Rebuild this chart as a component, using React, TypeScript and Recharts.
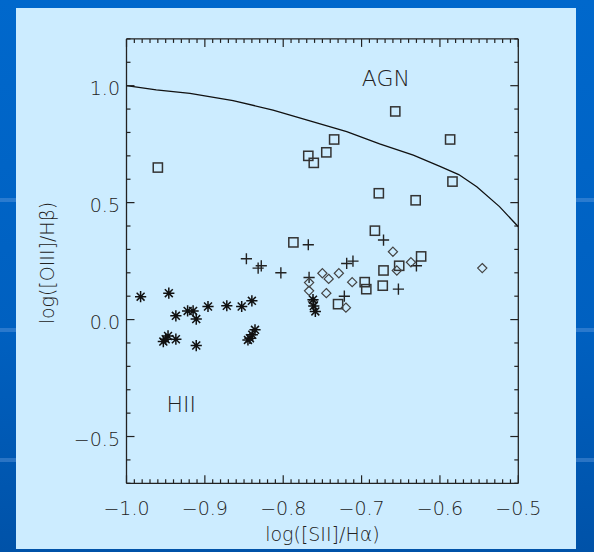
import React from 'react';
import { ScatterChart, Scatter, XAxis, YAxis, ReferenceDot } from 'recharts';

// Axis ranges and labelled tick values
const X_DOMAIN: [number, number] = [-1.0, -0.5];
const Y_DOMAIN: [number, number] = [-0.7, 1.2];
const X_MAJOR = [-1.0, -0.9, -0.8, -0.7, -0.6, -0.5];
const X_LABELS = ['\u22121.0', '\u22120.9', '\u22120.8', '\u22120.7', '\u22120.6', '\u22120.5'];
const Y_MAJOR = [-0.5, 0.0, 0.5, 1.0];
const Y_LABELS = ['\u22120.5', '0.0', '0.5', '1.0'];

// Demarcation curve between star-forming and AGN regions
const CURVE: [number, number][] = [
  [-1.0, 1.0], [-0.962, 0.982], [-0.919, 0.967], [-0.864, 0.936], [-0.813, 0.896],
  [-0.766, 0.849], [-0.719, 0.804], [-0.677, 0.751], [-0.634, 0.703], [-0.6, 0.655],
  [-0.576, 0.62], [-0.553, 0.568], [-0.524, 0.483], [-0.5, 0.397],
];

// Galaxy samples, [log([SII]/Ha), log([OIII]/Hb)]
const SQUARES: [number, number][] = [
  [-0.96, 0.65], [-0.657, 0.89], [-0.735, 0.77], [-0.745, 0.715], [-0.768, 0.70],
  [-0.761, 0.67], [-0.678, 0.54], [-0.631, 0.51], [-0.587, 0.77], [-0.584, 0.59],
  [-0.787, 0.33], [-0.683, 0.38], [-0.672, 0.21], [-0.696, 0.16], [-0.694, 0.13],
  [-0.673, 0.145], [-0.730, 0.066], [-0.652, 0.23], [-0.624, 0.27],
];
const CROSSES: [number, number][] = [
  [-0.847, 0.26], [-0.832, 0.22], [-0.828, 0.23], [-0.803, 0.20], [-0.768, 0.32],
  [-0.767, 0.18], [-0.719, 0.24], [-0.711, 0.25], [-0.722, 0.10], [-0.672, 0.34],
  [-0.630, 0.23], [-0.653, 0.13],
];
const DIAMONDS: [number, number][] = [
  [-0.767, 0.158], [-0.767, 0.123], [-0.762, 0.076], [-0.750, 0.198], [-0.742, 0.174],
  [-0.729, 0.198], [-0.745, 0.113], [-0.712, 0.16], [-0.720, 0.051], [-0.660, 0.29],
  [-0.655, 0.21], [-0.637, 0.245], [-0.546, 0.22],
];
const STARS: [number, number][] = [
  [-0.982, 0.098], [-0.946, 0.113], [-0.937, 0.016], [-0.922, 0.037], [-0.915, 0.037],
  [-0.911, 0.002], [-0.896, 0.056], [-0.872, 0.059], [-0.853, 0.056], [-0.840, 0.080],
  [-0.953, -0.094], [-0.950, -0.084], [-0.947, -0.070], [-0.937, -0.084], [-0.911, -0.111],
  [-0.845, -0.087], [-0.8425, -0.080], [-0.8395, -0.065], [-0.836, -0.044],
  [-0.762, 0.085], [-0.761, 0.058], [-0.759, 0.035],
];

const toPoints = (arr: [number, number][]) => arr.map(([x, y]) => ({ x, y }));

const INK = '#222';
const FONT = '"DejaVu Sans", sans-serif';

// minor ticks every 0.01 in x and 0.1 in y, inward-pointing like the frame
const xTicks: number[] = [];
for (let i = 0; i <= 50; i++) xTicks.push(Math.round((-1 + i * 0.01) * 1000) / 1000);
const yTicks: number[] = [];
for (let i = 0; i <= 19; i++) yTicks.push(Math.round((-0.7 + i * 0.1) * 1000) / 1000);

const majorIndex = (list: number[], v: number) => list.findIndex((m) => Math.abs(m - v) < 1e-6);

type Side = 'bottom' | 'top' | 'left' | 'right';
const makeTick = (side: Side) => (props: any) => {
  const { x, y, payload } = props;
  const v = payload.value as number;
  const horiz = side === 'bottom' || side === 'top';
  const idx = majorIndex(horiz ? X_MAJOR : Y_MAJOR, v);
  const len = idx >= 0 ? 8 : 4;
  let line;
  if (side === 'bottom') line = <line x1={x} y1={y} x2={x} y2={y - len} />;
  else if (side === 'top') line = <line x1={x} y1={y} x2={x} y2={y + len} />;
  else if (side === 'left') line = <line x1={x} y1={y} x2={x + len} y2={y} />;
  else line = <line x1={x} y1={y} x2={x - len} y2={y} />;
  return (
    <g>
      <g stroke={INK} strokeWidth={1.2}>{line}</g>
      {side === 'bottom' && idx >= 0 && (
        <text x={x} y={y + 31.5} textAnchor="middle" fill={INK} fontSize={19} fontWeight={300} fontFamily={FONT}>
          {X_LABELS[idx]}
        </text>
      )}
      {side === 'left' && idx >= 0 && (
        <text x={x - 6.5} y={y + 9.3} textAnchor="end" fill={INK} fontSize={19} fontWeight={300} fontFamily={FONT}>
          {Y_LABELS[idx]}
        </text>
      )}
    </g>
  );
};

const SquareMark = (p: any) => (
  <rect x={p.cx - 4.6} y={p.cy - 4.6} width={9.2} height={9.2} fill="none" stroke="#333" strokeWidth={1.5} />
);
const CrossMark = (p: any) => (
  <g stroke="#222" strokeWidth={1.4}>
    <line x1={p.cx - 5.6} y1={p.cy} x2={p.cx + 5.6} y2={p.cy} />
    <line x1={p.cx} y1={p.cy - 5.6} x2={p.cx} y2={p.cy + 5.6} />
  </g>
);
const DiamondMark = (p: any) => (
  <path
    d={`M${p.cx},${p.cy - 4.6}L${p.cx + 4.6},${p.cy}L${p.cx},${p.cy + 4.6}L${p.cx - 4.6},${p.cy}Z`}
    fill="none" stroke="#444" strokeWidth={1.2}
  />
);
const StarMark = (p: any) => {
  const r = 5.6, d = r * 0.7071;
  return (
    <g stroke="#111" strokeWidth={1.5}>
      <line x1={p.cx - r} y1={p.cy} x2={p.cx + r} y2={p.cy} />
      <line x1={p.cx} y1={p.cy - r} x2={p.cx} y2={p.cy + r} />
      <line x1={p.cx - d} y1={p.cy - d} x2={p.cx + d} y2={p.cy + d} />
      <line x1={p.cx - d} y1={p.cy + d} x2={p.cx + d} y2={p.cy - d} />
      <circle cx={p.cx} cy={p.cy} r={2} fill="#111" stroke="none" />
    </g>
  );
};
const NoMark = () => <g />;

const axisLine = { stroke: INK, strokeWidth: 1.3 };
const titleStyle = { fill: INK, fontSize: 19, fontWeight: 300, fontFamily: FONT };

export default function App() {
  return (
    <div
      style={{
        position: 'absolute', left: 0, top: 0, width: 594, height: 552, overflow: 'hidden',
        background: 'linear-gradient(180deg, #0068cc 0%, #0060c0 60%, #0052a8 100%)',
      }}
    >
      {[200, 330, 460].map((t) => (
        <div key={t} style={{ position: 'absolute', left: 0, top: t - 2, width: 594, height: 4, background: 'rgba(120,170,230,0.35)' }} />
      ))}
      <div style={{ position: 'absolute', left: 16, top: 8, width: 560, height: 541, background: '#CCECFF' }} />
      <div style={{ position: 'absolute', left: 0, top: 0 }}>
        <ScatterChart width={594} height={552} margin={{ top: 0, right: 0, bottom: 0, left: 0 }}>
          <XAxis
            xAxisId="b" type="number" dataKey="x" domain={X_DOMAIN} ticks={xTicks} interval={0}
            orientation="bottom" height={68.7} tickSize={0} tickLine={false} tickMargin={0}
            tick={makeTick('bottom')} axisLine={axisLine} allowDataOverflow
            label={{ value: 'log([SII]/H\u03b1)', position: 'center', dy: 17, ...titleStyle }}
          />
          <XAxis
            xAxisId="t" type="number" dataKey="x" domain={X_DOMAIN} ticks={xTicks} interval={0}
            orientation="top" height={38.9} tickSize={0} tickLine={false} tickMargin={0}
            tick={makeTick('top')} axisLine={axisLine} allowDataOverflow
          />
          <YAxis
            yAxisId="l" type="number" dataKey="y" domain={Y_DOMAIN} ticks={yTicks} interval={0}
            orientation="left" width={126.5} tickSize={0} tickLine={false} tickMargin={0}
            tick={makeTick('left')} axisLine={axisLine} allowDataOverflow
            label={{ value: 'log([OIII]/H\u03b2)', position: 'center', angle: -90, dx: -15.5, dy: 2, ...titleStyle }}
          />
          <YAxis
            yAxisId="r" type="number" dataKey="y" domain={Y_DOMAIN} ticks={yTicks} interval={0}
            orientation="right" width={75.7} tickSize={0} tickLine={false} tickMargin={0}
            tick={makeTick('right')} axisLine={axisLine} allowDataOverflow
          />
          <Scatter
            xAxisId="t" yAxisId="r" data={toPoints(CURVE)} line={{ stroke: '#111', strokeWidth: 1.3 }}
            lineType="joint" shape={NoMark} isAnimationActive={false}
          />
          <Scatter xAxisId="b" yAxisId="l" data={toPoints(SQUARES)} shape={SquareMark} isAnimationActive={false} />
          <Scatter xAxisId="b" yAxisId="l" data={toPoints(CROSSES)} shape={CrossMark} isAnimationActive={false} />
          <Scatter xAxisId="b" yAxisId="l" data={toPoints(DIAMONDS)} shape={DiamondMark} isAnimationActive={false} />
          <Scatter xAxisId="b" yAxisId="l" data={toPoints(STARS)} shape={StarMark} isAnimationActive={false} />
          <ReferenceDot
            xAxisId="b" yAxisId="l" x={-0.669} y={1.031} r={0} fill="none" stroke="none"
            label={{ value: 'AGN', position: 'center', fill: INK, fontSize: 22, fontWeight: 300, fontFamily: FONT }}
          />
          <ReferenceDot
            xAxisId="b" yAxisId="l" x={-0.93} y={-0.363} r={0} fill="none" stroke="none"
            label={{ value: 'HII', position: 'center', fill: INK, fontSize: 22, fontWeight: 300, fontFamily: FONT }}
          />
        </ScatterChart>
      </div>
    </div>
  );
}
